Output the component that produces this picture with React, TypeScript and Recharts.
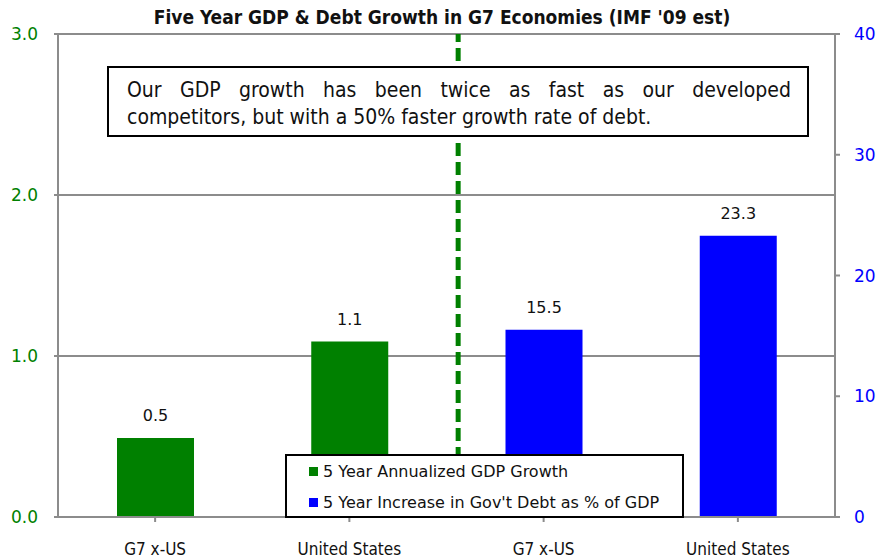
import {
  Bar,
  BarChart,
  CartesianGrid,
  LabelList,
  ReferenceLine,
  XAxis,
  YAxis,
} from "recharts";

if (typeof document !== "undefined") document.body.style.margin = "0";

const CATEGORIES = ["G7 x-US", "United States", "G7 x-US", "United States"];
const GDP_GROWTH = [0.49, 1.09, null, null];
const DEBT_INCREASE = [null, null, 15.5, 23.3];
const LEFT_TICKS = [0, 1, 2, 3];
const RIGHT_TICKS = [0, 10, 20, 30, 40];
const DIVIDER_AT = 2.06;

const GREEN = "#008000";
const BLUE = "#0000ff";
const GRID = "#8c8c8c";
const narrow = "'Liberation Sans Narrow', 'DejaVu Sans Condensed', sans-serif";
const plain = "Tahoma, 'DejaVu Sans', sans-serif";

const data = CATEGORIES.map((name, i) => ({
  key: i,
  pos: i + 0.5,
  name,
  gdp: GDP_GROWTH[i],
  debt: DEBT_INCREASE[i],
}));

function LegendBox() {
  const row = (color: string, text: string) => (
    <div style={{ display: "flex", alignItems: "center", height: 31 }}>
      <span style={{ width: 9, height: 9, background: color, marginRight: 5 }} />
      <span>{text}</span>
    </div>
  );
  return (
    <div
      style={{
        position: "absolute",
        left: 285,
        top: 454,
        border: "2px solid #000",
        background: "#fff",
        width: 399,
        height: 64,
        boxSizing: "border-box",
        padding: "0 0 0 22px",
        fontFamily: plain,
        fontSize: 16,
        color: "#111",
      }}
    >
      {row(GREEN, "5 Year Annualized GDP Growth")}
      {row(BLUE, "5 Year Increase in Gov't Debt as % of GDP")}
    </div>
  );
}

export default function App() {
  return (
    <div style={{ position: "relative", width: 876, height: 558, background: "#fff" }}>
      <div
        style={{
          position: "absolute",
          left: 0,
          top: 6,
          width: 884,
          textAlign: "center",
          fontFamily: narrow,
          fontWeight: "bold",
          fontSize: 19,
          color: "#111",
        }}
      >
        Five Year GDP &amp; Debt Growth in G7 Economies (IMF '09 est)
      </div>
      <BarChart
        width={876}
        height={558}
        data={data}
        margin={{ top: 34, right: 0, bottom: 0, left: 0 }}
        barSize={77}
        barGap={-77}
      >
        <CartesianGrid stroke={GRID} strokeWidth={2} vertical={false} yAxisId="left" />
        <XAxis
          dataKey="key"
          tickFormatter={(i) => CATEGORIES[Number(i)]}
          height={41}
          stroke={GRID}
          strokeWidth={2}
          tickSize={5}
          tick={{ fill: "#111", fontSize: 17, fontFamily: narrow, dy: 19 }}
          interval={0}
        />
        <XAxis
          xAxisId="num"
          dataKey="pos"
          type="number"
          domain={[0, 4]}
          allowDataOverflow
          height={0}
          hide
        />
        <YAxis
          yAxisId="left"
          domain={[0, 3]}
          ticks={LEFT_TICKS}
          width={58}
          stroke={GRID}
          strokeWidth={2}
          tickSize={4}
          tickMargin={16}
          tickFormatter={(v) => Number(v).toFixed(1)}
          tick={{ fill: GREEN, fontSize: 17, fontFamily: plain }}
        />
        <YAxis
          yAxisId="right"
          orientation="right"
          domain={[0, 40]}
          ticks={RIGHT_TICKS}
          width={41}
          stroke={GRID}
          strokeWidth={2}
          tickSize={5}
          tickMargin={14}
          tick={{ fill: BLUE, fontSize: 17, fontFamily: plain, textAnchor: "start" }}
        />
        <ReferenceLine
          xAxisId="num"
          yAxisId="left"
          x={DIVIDER_AT}
          stroke={GREEN}
          strokeWidth={5}
          strokeDasharray="13 6"
        />
        <Bar dataKey="gdp" yAxisId="left" fill={GREEN} isAnimationActive={false}>
          <LabelList
            dataKey="gdp"
            position="top"
            offset={17}
            formatter={(v: any) => (v == null ? "" : Number(v).toFixed(1))}
            style={{ fill: "#111", fontSize: 16, fontFamily: plain }}
          />
        </Bar>
        <Bar dataKey="debt" yAxisId="right" fill={BLUE} isAnimationActive={false}>
          <LabelList
            dataKey="debt"
            position="top"
            offset={17}
            formatter={(v: any) => (v == null ? "" : Number(v).toFixed(1))}
            style={{ fill: "#111", fontSize: 16, fontFamily: plain }}
          />
        </Bar>
      </BarChart>
      <LegendBox />
      <div
        style={{
          position: "absolute",
          left: 107,
          top: 66,
          width: 702,
          height: 71,
          boxSizing: "border-box",
          border: "2px solid #000",
          background: "#fff",
          padding: "9px 16px 0 18px",
          fontFamily: narrow,
          fontSize: 21,
          lineHeight: "27px",
          color: "#111",
          textAlign: "justify",
        }}
      >
        Our GDP growth has been twice as fast as our developed competitors, but with a 50% faster growth rate of debt.
      </div>
    </div>
  );
}
